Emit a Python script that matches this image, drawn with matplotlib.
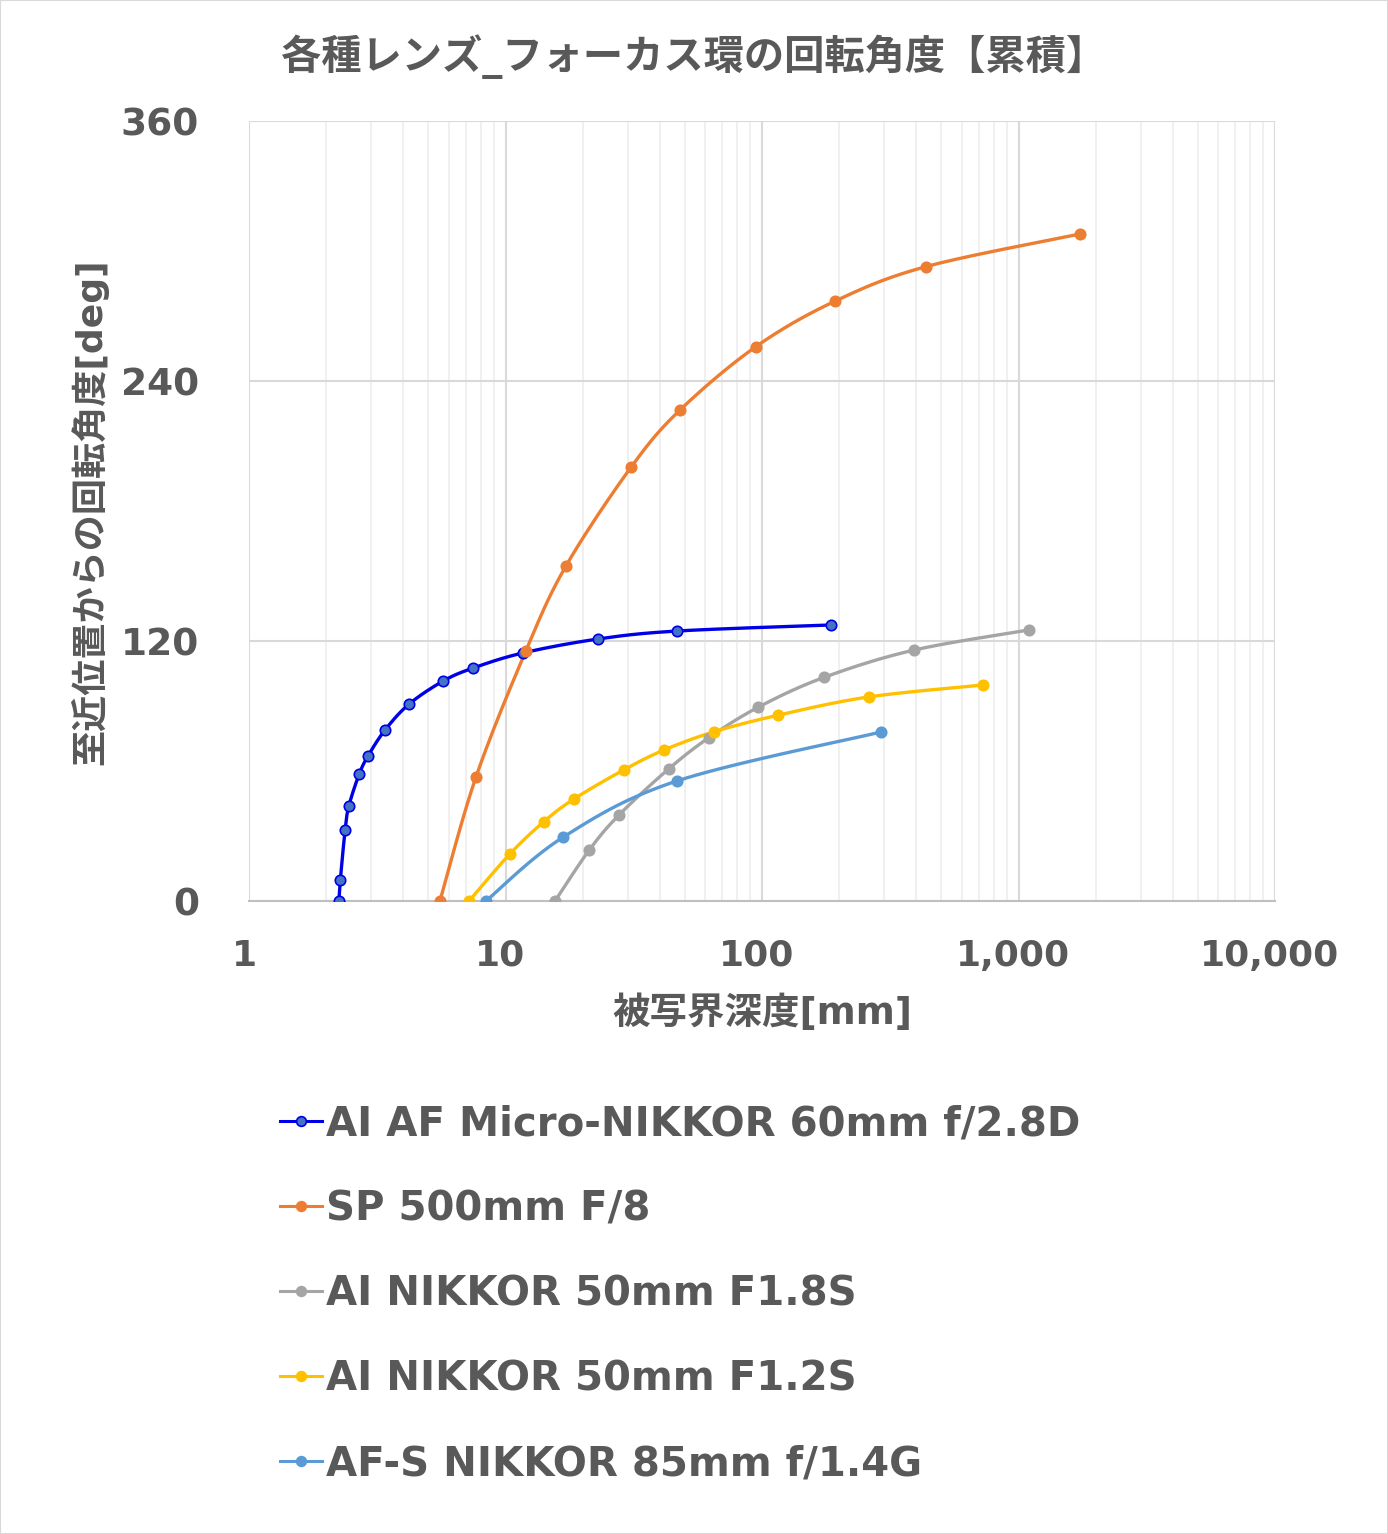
import numpy as np
import matplotlib
matplotlib.use('Agg')
import matplotlib.pyplot as plt
import matplotlib.transforms as mtrans
from matplotlib.ticker import FixedLocator, LogLocator, NullFormatter

plt.rcParams['font.family'] = ['DejaVu Sans', 'Noto Sans CJK JP']

# depth of field [mm] vs cumulative focus ring rotation [deg]
micro60_x = [2.24, 2.27, 2.37, 2.45, 2.69, 2.91, 3.39, 4.21, 5.71, 7.47, 11.7, 22.9, 46.6, 186]
micro60_y = [0, 9.7, 32.8, 43.8, 58.6, 66.9, 78.9, 90.9, 101.5, 107.5, 114.5, 120.9, 124.6, 127.4]

sp500_x = [5.55, 7.67, 12.0, 17.2, 30.9, 47.9, 94.8, 193, 436, 1730]
sp500_y = [0, 57.2, 115.4, 154.6, 200.3, 226.6, 255.9, 276.9, 292.8, 307.8]

ai50_18_x = [15.6, 21.2, 27.7, 43.2, 62.1, 96.9, 174.5, 391, 1099]
ai50_18_y = [0, 23.5, 39.7, 60.9, 75.4, 89.5, 103.2, 115.8, 125.1]

ai50_12_x = [7.21, 10.4, 14.1, 18.5, 29.0, 41.5, 65.0, 115, 261, 727]
ai50_12_y = [0, 21.7, 36.6, 47.1, 60.6, 69.7, 78.1, 85.7, 94.2, 99.7]

afs85_x = [8.39, 16.8, 46.6, 291]
afs85_y = [0, 29.5, 55.4, 78.0]

labels = ['AI AF Micro-NIKKOR 60mm f/2.8D', 'SP 500mm F/8', 'AI NIKKOR 50mm F1.8S',
          'AI NIKKOR 50mm F1.2S', 'AF-S NIKKOR 85mm f/1.4G']

series = [(micro60_x, micro60_y, '#0000E6', '#4472C4', '#0000E6'),
          (sp500_x, sp500_y, '#ED7D31', '#ED7D31', '#ED7D31'),
          (ai50_18_x, ai50_18_y, '#A5A5A5', '#A5A5A5', '#A5A5A5'),
          (ai50_12_x, ai50_12_y, '#FFC000', '#FFC000', '#FFC000'),
          (afs85_x, afs85_y, '#5B9BD5', '#5B9BD5', '#5B9BD5')]

text_col = '#595959'


def smooth(xs, ys, n=20):
    # excel style smoothed line (catmull-rom in screen-ish coordinates)
    u = np.log10(np.asarray(xs, float)) * 256.5
    v = np.asarray(ys, float) * 2.1667
    p = np.column_stack([u, v])
    p = np.vstack([p[0], p, p[-1]])
    out = []
    t = np.linspace(0, 1, n)[:, None]
    for i in range(1, len(p) - 2):
        p0, p1, p2, p3 = p[i - 1], p[i], p[i + 1], p[i + 2]
        c1 = p1 + (p2 - p0) / 6
        c2 = p2 - (p3 - p1) / 6
        seg = ((1 - t) ** 3) * p1 + 3 * ((1 - t) ** 2) * t * c1 + 3 * (1 - t) * t ** 2 * c2 + t ** 3 * p2
        out.append(seg)
    out = np.vstack(out)
    return 10 ** (out[:, 0] / 256.5), out[:, 1] / 2.1667


fig = plt.figure(figsize=(13.88, 15.34), dpi=100)
fig.patches.append(plt.Rectangle((0, 0), 1, 1, transform=fig.transFigure, fill=False,
                                 edgecolor='#D9D9D9', linewidth=1.5))
ax = fig.add_axes([249 / 1388, 1 - 901 / 1534, (1275 - 249) / 1388, (901 - 121) / 1534])

handles = []
for (xs, ys, lc, fc, ec), lab in zip(series, labels):
    sx, sy = smooth(xs, ys)
    ax.plot(sx, sy, color=lc, lw=2.4, zorder=3, solid_capstyle='round')
    ax.plot(xs, ys, ls='none', marker='o', ms=7.5, mfc=fc, mec=ec, mew=1.2, zorder=4)
    h, = ax.plot([], [], color=lc, lw=2.2, marker='o', ms=7, mfc=fc, mec=ec, mew=1.2)
    handles.append(h)

ax.set_xscale('log')
ax.set_xlim(1, 10000)
ax.set_ylim(0, 360)
ax.yaxis.set_major_locator(FixedLocator([0, 120, 240, 360]))
ax.xaxis.set_major_locator(FixedLocator([1, 10, 100, 1000, 10000]))
ax.xaxis.set_minor_locator(LogLocator(base=10, subs=np.arange(2, 10)))
ax.xaxis.set_minor_formatter(NullFormatter())
ax.set_xticklabels(['1', '10', '100', '1,000', '10,000'])

ax.grid(True, which='major', color='#D9D9D9', lw=1.5, zorder=0)
ax.grid(True, which='minor', axis='x', color='#EDEDED', lw=1.2, zorder=0)
for s in ['top', 'right', 'left']:
    ax.spines[s].set_visible(False)
ax.spines['bottom'].set_color('#BFBFBF')
ax.spines['bottom'].set_linewidth(1.5)
ax.tick_params(which='both', length=0)
ax.tick_params(axis='x', pad=27, labelsize=26, labelcolor=text_col)
ax.tick_params(axis='y', pad=36, labelsize=27, labelcolor=text_col)
shift = mtrans.ScaledTranslation(-5 / 100, 0, fig.dpi_scale_trans)
for t in ax.get_xticklabels():
    t.set_transform(t.get_transform() + shift)
for t in ax.get_xticklabels() + ax.get_yticklabels():
    t.set_fontweight('bold')

ax.set_xlabel('被写界深度[mm]', fontsize=27, fontweight='bold', color=text_col, labelpad=16)
ax.set_ylabel('至近位置からの回転角度[deg]', fontsize=26, fontweight='bold', color=text_col)
ax.yaxis.set_label_coords(-0.137, 0.499)

fig.text(0.5, 1 - 57 / 1534, '各種レンズ_フォーカス環の回転角度【累積】', ha='center', va='center',
         fontsize=29, fontweight='bold', color=text_col)

leg = fig.legend(handles, labels, loc='upper left', bbox_to_anchor=(264 / 1388, 1 - 1088 / 1534),
                 frameon=False, fontsize=29, handlelength=1.05, handletextpad=0.08,
                 labelspacing=1.12, borderaxespad=0)
for t in leg.get_texts():
    t.set_color(text_col)
    t.set_fontweight('bold')

fig.savefig('out.png', dpi=100)
